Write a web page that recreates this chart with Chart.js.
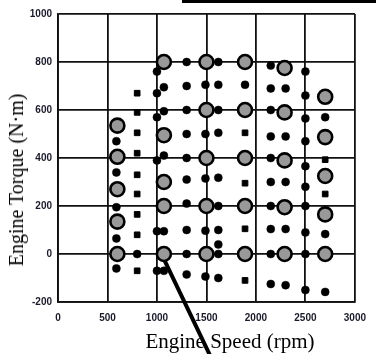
<!DOCTYPE html>
<html>
<head>
<meta charset="utf-8">
<script src="https://cdn.jsdelivr.net/npm/chart.js@4/dist/chart.umd.min.js"></script>
<style>
  html, body { margin: 0; padding: 0; background: #fff; }
  #wrap { position: relative; width: 376px; height: 354px; overflow: hidden; }
  #wrap canvas { position: absolute; left: 0; top: 0; }
  .ttl { position: absolute; font-family: "Liberation Serif", "Times New Roman", serif; color: #000; white-space: nowrap; line-height: 1; }
  #xt { left: 230px; top: 341px; font-size: 21px; transform: translate(-50%, -50%); }
  #yt { left: 16px; top: 180px; font-size: 20px; transform: translate(-50%, -50%) rotate(-90deg); }
  #bar { position: absolute; left: 182px; top: 0; width: 194px; height: 3px; background: #000; }
</style>
</head>
<body>
<div id="wrap">
  <canvas id="c" width="376" height="354"></canvas>
  <div id="bar"></div>
  <div class="ttl" id="xt">Engine Speed (rpm)</div>
  <div class="ttl" id="yt">Engine Torque (N·m)</div>
</div>
<script>
// Axis ticks
const speedTicks = [0, 500, 1000, 1500, 2000, 2500, 3000];
const torqueTicks = [-200, 0, 200, 400, 600, 800, 1000];

// Large grey operating points
const largeSpeed  = [600,600,600,600,600, 1070,1070,1070,1070,1070, 1500,1500,1500,1500,1500, 1890,1890,1890,1890,1890, 2290,2290,2290,2290,2290, 2700,2700,2700,2700,2700];
const largeTorque = [535,405,270,135,0,   800,495,300,200,0,       800,600,400,200,0,       800,600,400,200,0,       775,590,390,195,0,       655,487,325,165,0];

// Small black round points
const dotSpeed  = [590,590,590,590,590, 800, 1000,1000,1000,1000,1000,1000, 1070,1070,1070,1070,1070,
  1300,1300,1300,1300,1300,1300,1300,1300,1300,1300, 1490,1490,1490,1490,1490,
  1620,1620,1620,1620,1620,1620,1620,1620,1620,1620, 1890,
  2150,2150,2150,2150,2150,2150,2150,2150,2150,2150, 2300,2300,2300,2300,2300,
  2500,2500,2500,2500,2500,2500,2500,2500,2500,2500, 2700,2700,2700];
const dotTorque = [470,340,195,65,-60, 0, 760,670,570,390,95,-70, 695,595,410,95,-70,
  800,700,600,500,400,310,210,100,0,-85, 705,500,315,97,-94,
  800,705,600,505,318,200,100,40,0,-100, 705,
  785,690,600,490,400,300,200,104,0,-125, 690,490,300,104,-130,
  760,660,565,470,366,280,200,90,0,-150, 570,83,-158];

// Small black square points
const squareSpeed  = [800,800,800,800,800,800,800,800,800, 1890,1890,1890,1890, 2700,2700];
const squareTorque = [670,590,505,420,330,250,165,80,-70,  505,295,105,-110,   393,250];

// Pointer line (annotation) in data units
const pointerSpeed  = [1080, 1545];
const pointerTorque = [-30, -430];

function pts(xs, ys) { return xs.map((x, i) => ({ x: x, y: ys[i] })); }

const tickFont = { family: 'Liberation Sans, Arial, sans-serif', size: 10, weight: 'bold' };

new Chart(document.getElementById('c'), {
  type: 'scatter',
  data: {
    datasets: [
      { type: 'line', data: pts(pointerSpeed, pointerTorque), borderColor: '#000', borderWidth: 4, pointRadius: 0, clip: false, showLine: true },
      { data: pts(largeSpeed, largeTorque), pointRadius: 7, pointHoverRadius: 7, backgroundColor: '#999999', borderColor: '#000', borderWidth: 2.6 },
      { data: pts(dotSpeed, dotTorque), pointRadius: 4, pointHoverRadius: 4, backgroundColor: '#000', borderColor: '#000', borderWidth: 0.5 },
      { data: pts(squareSpeed, squareTorque), pointStyle: 'rect', pointRadius: 4, pointHoverRadius: 4, backgroundColor: '#000', borderColor: '#000', borderWidth: 1 }
    ]
  },
  options: {
    responsive: false,
    animation: false,
    events: [],
    layout: { padding: { left: 0, top: 14, right: 12, bottom: 0 } },
    plugins: { legend: { display: false }, tooltip: { enabled: false } },
    scales: {
      x: {
        type: 'linear', min: 0, max: 3000,
        afterBuildTicks: s => { s.ticks = speedTicks.map(v => ({ value: v })); },
        afterFit: s => { s.height = 52; },
        grid: { color: '#111', lineWidth: 1.8, drawTicks: false },
        border: { color: '#111', width: 1.8 },
        ticks: { padding: 10, color: '#1a1a2a', font: tickFont, maxRotation: 0, callback: v => String(v) }
      },
      y: {
        type: 'linear', min: -200, max: 1000,
        afterBuildTicks: s => { s.ticks = torqueTicks.map(v => ({ value: v })); },
        afterFit: s => { s.width = 58; },
        grid: { color: '#111', lineWidth: 1.8, drawTicks: false },
        border: { color: '#111', width: 1.8 },
        ticks: { padding: 6, color: '#1a1a2a', font: tickFont, callback: v => String(v) }
      }
    }
  }
});
</script>
</body>
</html>
